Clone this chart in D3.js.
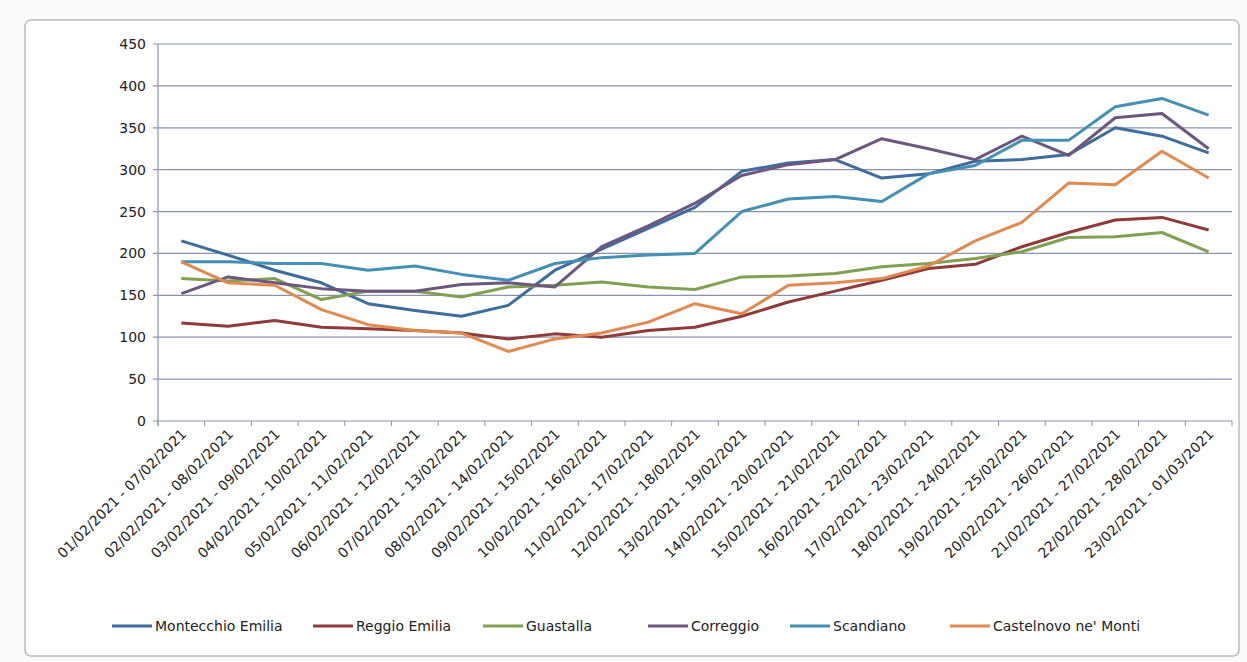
<!DOCTYPE html>
<html><head><meta charset="utf-8">
<script src="https://cdn.jsdelivr.net/npm/d3@7"></script>
<style>
body{margin:0;background:#fafafa;font-family:"DejaVu Sans",sans-serif;}
text{fill:#222;}
</style></head>
<body><svg width="1247" height="662"></svg>
<script>
var categories = ["01/02/2021 - 07/02/2021","02/02/2021 - 08/02/2021","03/02/2021 - 09/02/2021","04/02/2021 - 10/02/2021","05/02/2021 - 11/02/2021","06/02/2021 - 12/02/2021","07/02/2021 - 13/02/2021","08/02/2021 - 14/02/2021","09/02/2021 - 15/02/2021","10/02/2021 - 16/02/2021","11/02/2021 - 17/02/2021","12/02/2021 - 18/02/2021","13/02/2021 - 19/02/2021","14/02/2021 - 20/02/2021","15/02/2021 - 21/02/2021","16/02/2021 - 22/02/2021","17/02/2021 - 23/02/2021","18/02/2021 - 24/02/2021","19/02/2021 - 25/02/2021","20/02/2021 - 26/02/2021","21/02/2021 - 27/02/2021","22/02/2021 - 28/02/2021","23/02/2021 - 01/03/2021"];
var montecchio = [215,198,180,165,140,132,125,138,180,205,230,255,298,308,312,290,295,310,312,318,350,340,320];
var reggio = [117,113,120,112,110,108,105,98,104,100,108,112,125,142,155,168,182,187,208,225,240,243,228];
var guastalla = [170,167,170,145,155,155,148,160,162,166,160,157,172,173,176,184,188,194,202,219,220,225,202];
var correggio = [152,172,165,158,155,155,163,165,160,208,233,260,293,306,312,337,325,312,340,317,362,367,325];
var scandiano = [190,190,188,188,180,185,175,168,188,195,198,200,250,265,268,262,295,305,335,335,375,385,365];
var castelnovo = [190,165,162,133,115,108,105,83,98,105,118,140,128,162,165,170,185,215,237,284,282,322,290];
var seriesNames = ["Montecchio Emilia","Reggio Emilia","Guastalla","Correggio","Scandiano","Castelnovo ne' Monti"];
var seriesColors = ["#3d6c9e","#8e3b3a","#80a152","#6d5780","#4390b3","#e2894f"];
var yTicks = [0,50,100,150,200,250,300,350,400,450];

var svg = d3.select("svg");
svg.append("rect").attr("x",25).attr("y",20).attr("width",1214).attr("height",636)
  .attr("fill","#fff").attr("stroke","#bbb").attr("stroke-width",1.5).attr("rx",6);

var plotL = 158, plotR = 1232, plotT = 44, plotB = 421;
var x = d3.scaleBand().domain(categories).range([plotL,plotR]);
var y = d3.scaleLinear().domain([0,450]).range([plotB,plotT]);

svg.append("g").selectAll("line").data(yTicks).enter().append("line")
  .attr("x1",plotL-5).attr("x2",plotR).attr("y1",d=>y(d)).attr("y2",d=>y(d))
  .attr("stroke","#8a93ad").attr("stroke-width",1.2);
svg.append("line").attr("x1",plotL).attr("x2",plotL).attr("y1",plotT).attr("y2",plotB+5)
  .attr("stroke","#8a93ad").attr("stroke-width",1.2);
svg.append("g").selectAll("line").data(categories.concat(["end"])).enter().append("line")
  .attr("x1",(d,i)=>plotL+i*x.bandwidth()).attr("x2",(d,i)=>plotL+i*x.bandwidth())
  .attr("y1",plotB).attr("y2",plotB+5).attr("stroke","#8a93ad");

svg.append("g").selectAll("text").data(yTicks).enter().append("text")
  .attr("x",plotL-12).attr("y",d=>y(d)+5).attr("text-anchor","end")
  .attr("font-size",14).text(d=>d);

svg.append("g").selectAll("text").data(categories).enter().append("text")
  .attr("transform",d=>"translate("+(x(d)+x.bandwidth()/2+6)+","+(plotB+14)+") rotate(-45)")
  .attr("text-anchor","end").attr("font-size",14).text(d=>d);

var allSeries = [montecchio,reggio,guastalla,correggio,scandiano,castelnovo];
var line = d3.line().x((d,i)=>x(categories[i])+x.bandwidth()/2).y(d=>y(d));
svg.append("g").selectAll("path").data(allSeries).enter().append("path")
  .attr("d",line).attr("fill","none").attr("stroke-width",3)
  .attr("stroke",(d,i)=>seriesColors[i]).attr("stroke-linejoin","round");

var legendX = [112,313,483,648,790,950];
var lg = svg.append("g").selectAll("g").data(seriesNames).enter().append("g")
  .attr("transform",(d,i)=>"translate("+legendX[i]+",626)");
lg.append("line").attr("x1",0).attr("x2",40).attr("stroke-width",3).attr("stroke",(d,i)=>seriesColors[i]);
lg.append("text").attr("x",43).attr("y",5).attr("font-size",14).text(d=>d);
</script></body></html>
